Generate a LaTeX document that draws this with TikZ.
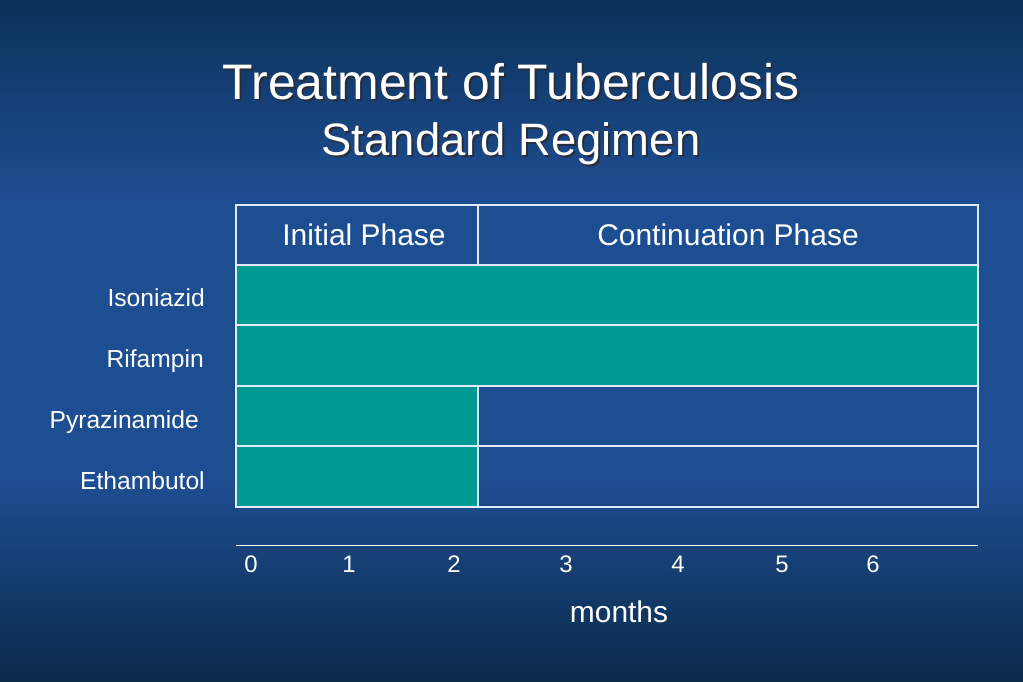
\documentclass[tikz,border=0pt]{standalone}
\usepackage{fontspec}
\setmainfont{Liberation Sans}
\usetikzlibrary{positioning}
\definecolor{slidetop}{RGB}{12,50,90}
\definecolor{slidemid}{RGB}{30,78,146}
\definecolor{slidebot}{RGB}{10,42,74}
\definecolor{drugteal}{RGB}{0,153,147}
\definecolor{gridline}{RGB}{225,235,245}
\definecolor{shadowgray}{RGB}{40,45,60}
\begin{document}
\begin{tikzpicture}[x=0.025cm,y=-0.025cm,
    titletext/.style={inner sep=0pt,anchor=base,font=\fontsize{35.5}{40}\selectfont},
    subtext/.style={inner sep=0pt,anchor=base,font=\fontsize{32.3}{36}\selectfont},
    headtext/.style={inner sep=0pt,anchor=base,text=white,font=\fontsize{21.3}{24}\selectfont},
    druglabel/.style={inner sep=0pt,anchor=base east,text=white,font=\fontsize{17.5}{20}\selectfont},
    ticklabel/.style={inner sep=0pt,anchor=base,text=white,font=\fontsize{17}{20}\selectfont}]
       \useasboundingbox (0,0) rectangle (1023,682);
       % background, dark at top and bottom
       \fill[slidemid] (0,0) rectangle (1023,682);
       \shade[top color=slidetop,bottom color=slidemid] (0,0) rectangle (1023,200);
       \shade[top color=slidemid,bottom color=slidebot] (0,480) rectangle (1023,682);
       % title with shadow
       \node[titletext,text=shadowgray] (tshadow) at (513,102) {Treatment of Tuberculosis};
       \node[titletext,text=white] (title) at (511,100) {Treatment of Tuberculosis};
       \node[subtext,text=shadowgray] (sshadow) at (513,158) {Standard Regimen};
       \node[subtext,text=white] (subtitle) at (511,156) {Standard Regimen};
       % table
       \coordinate (A) at (236,205);
       \coordinate (B) at (978,507);
       \coordinate (M) at (478,205);
       \fill[drugteal] (236,265) rectangle (978,386);
       \fill[drugteal] (236,386) rectangle (478,507);
       \draw[gridline,line width=0.8pt] (A) rectangle (B);
       \foreach \y in {265,325,386,446}
         \draw[gridline,line width=0.8pt] (236,\y) -- (978,\y);
       \draw[gridline,line width=0.8pt] (M) -- (478,265) (478,386) -- (478,507);
       \node[headtext] (initial) at (364,245) {Initial Phase};
       \node[headtext] (contin) at (728,245) {Continuation Phase};
       \node[druglabel] (inh) at (205,306) {Isoniazid};
       \node[druglabel] (rif) at (204,367) {Rifampin};
       \node[druglabel] (pza) at (199,428) {Pyrazinamide};
       \node[druglabel] (emb) at (205,489) {Ethambutol};
       % time axis
       \coordinate (T0) at (236,545);
       \coordinate (T1) at (978,545);
       \draw[white,line width=0.6pt] (T0) -- (T1);
       \foreach \x/\m in {251/0,349/1,454/2,566/3,678/4,782/5,873/6}
         \node[ticklabel] (m\m) at (\x,572) {\m};
       \node[headtext] (months) at (619,622) {months};
     \end{tikzpicture}
\end{document}
